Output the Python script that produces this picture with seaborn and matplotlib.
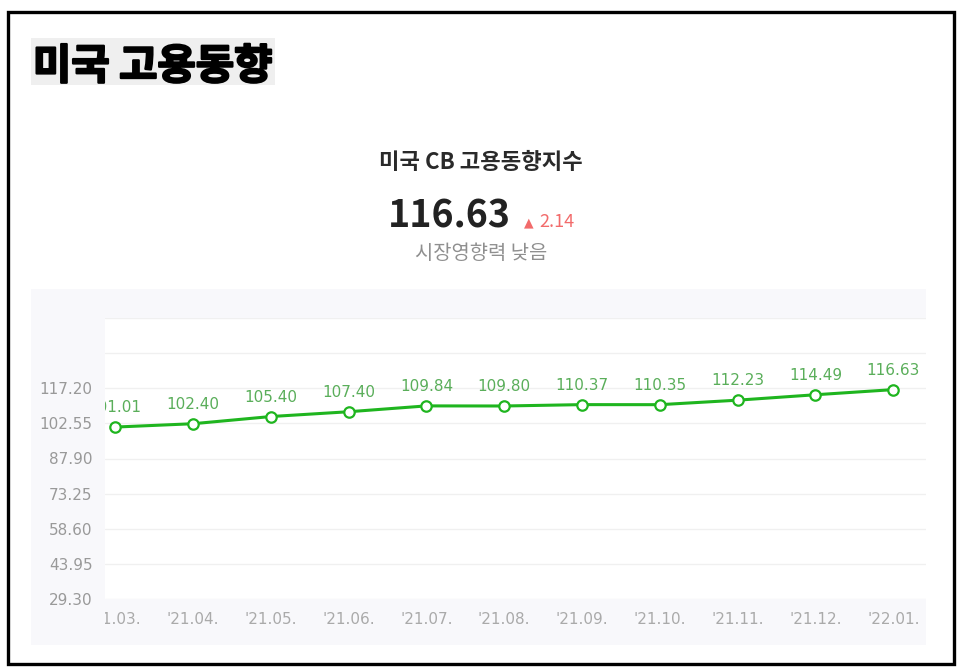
import matplotlib
matplotlib.use("Agg")
import matplotlib.pyplot as plt
from matplotlib.patches import Rectangle
import matplotlib.transforms as mtrans
import matplotlib.patheffects as pe
import seaborn as sns
import pandas as pd

# ---- data ----
months = ["'21.03.", "'21.04.", "'21.05.", "'21.06.", "'21.07.", "'21.08.",
          "'21.09.", "'21.10.", "'21.11.", "'21.12.", "'22.01."]
values = [101.01, 102.40, 105.40, 107.40, 109.84, 109.80,
          110.37, 110.35, 112.23, 114.49, 116.63]
value_labels = ["101.01", "102.40", "105.40", "107.40", "109.84", "109.80",
                "110.37", "110.35", "112.23", "114.49", "116.63"]
y_ticks = [29.30, 43.95, 58.60, 73.25, 87.90, 102.55, 117.20, 131.85, 146.50]
y_tick_labels = ["29.30", "43.95", "58.60", "73.25", "87.90", "102.55", "117.20", "", ""]
page_title = "미국 고용동향"
chart_title = "미국 CB 고용동향지수"
latest_value = "116.63"
change_text = "2.14"
impact_text = "시장영향력 낮음"

W, H = 959, 669
sns.set_theme(style="white")
plt.rcParams['font.family'] = ['Noto Sans CJK KR', 'DejaVu Sans']

fig = plt.figure(figsize=(W / 100, H / 100), dpi=100)
fig.patch.set_facecolor("white")


def fx(x):
    return x / W


def fy(y):
    return 1 - y / H


# outer border
fig.add_artist(Rectangle((fx(8), fy(664)), fx(954) - fx(8), fy(12) - fy(664),
                         transform=fig.transFigure, fill=False,
                         edgecolor="black", linewidth=2.4, zorder=5))
# title box
fig.add_artist(Rectangle((fx(31), fy(85)), fx(275) - fx(31), fy(38) - fy(85),
                         transform=fig.transFigure, facecolor="#efefef",
                         edgecolor="none", zorder=-2))
fig.text(fx(33), fy(79), page_title, fontsize=30, fontweight="heavy",
         color="black", ha="left", va="baseline",
         family=['Noto Sans CJK KR', 'DejaVu Sans'],
         path_effects=[pe.withStroke(linewidth=1.6, foreground="black")])

# header texts
fig.text(fx(481), fy(169), chart_title, fontsize=16, fontweight="bold",
         color="#2a2a2a", ha="center", va="baseline")
fig.text(fx(511), fy(228), latest_value, fontsize=27, fontweight="bold",
         color="#222222", ha="right", va="baseline")
fig.text(fx(524), fy(226), "▲", fontsize=9, color="#f26b6b",
         ha="left", va="baseline", family=['DejaVu Sans'])
fig.text(fx(539), fy(227), change_text, fontsize=13, color="#f26b6b",
         ha="left", va="baseline")
fig.text(fx(481), fy(259), impact_text, fontsize=14.3, color="#8f8f8f",
         ha="center", va="baseline")

# chart panel background
fig.add_artist(Rectangle((fx(31), fy(645)), fx(926) - fx(31), fy(289) - fy(645),
                         transform=fig.transFigure, facecolor="#f8f8fb",
                         edgecolor="none", zorder=-1))

ax = fig.add_axes([fx(105), fy(599), fx(926) - fx(105), fy(318) - fy(599)])
ax.set_facecolor("white")

df = pd.DataFrame({"idx": list(range(len(months))), "value": values})
green = "#1fb51f"
sns.lineplot(data=df, x="idx", y="value", ax=ax, color=green, linewidth=2.2,
             marker="o", markersize=7.5, markerfacecolor="white",
             markeredgecolor=green, markeredgewidth=1.6, zorder=3)

ax.set_xlim(-0.13, 10.42)
ax.set_ylim(y_ticks[0], y_ticks[-1])
ax.set_yticks(y_ticks, y_tick_labels)
ax.set_xticks(list(range(len(months))), months)
ax.grid(axis="y", color="#f0f0f0", linewidth=1)
ax.grid(axis="x", visible=False)
for s in ax.spines.values():
    s.set_visible(False)
ax.tick_params(axis="y", length=0, pad=9, labelsize=11, labelcolor="#999999",
               labelfontfamily="DejaVu Sans")
ax.tick_params(axis="x", length=0, pad=9, labelsize=11, labelcolor="#aaaaaa",
               labelfontfamily="DejaVu Sans")
ax.set_xlabel("")
ax.set_ylabel("")

clip_rect = Rectangle((0, -0.3), 1, 1.6, transform=ax.transAxes)
for lbl in ax.get_xticklabels():
    lbl.set_clip_path(clip_rect)
    lbl.set_clip_on(True)

offs = mtrans.offset_copy(ax.transData, fig=fig, x=0, y=15, units="dots")
for i, (v, t) in enumerate(zip(values, value_labels)):
    ax.text(i, v, t, transform=offs, ha="center", va="baseline",
            fontsize=11, color="#5aae5a", clip_on=True,
            fontfamily="DejaVu Sans")

fig.savefig("out.png", dpi=100)
